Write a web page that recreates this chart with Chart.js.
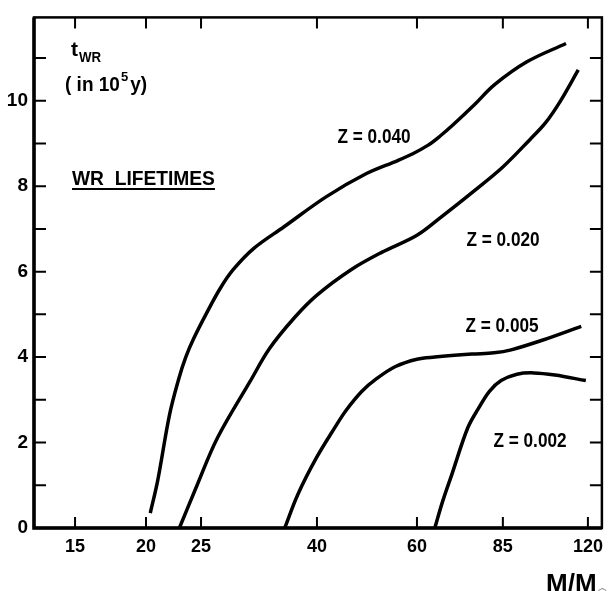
<!DOCTYPE html>
<html>
<head>
<meta charset="utf-8">
<script src="https://cdn.jsdelivr.net/npm/chart.js@4"></script>
<style>
  body { margin: 0; background: #fff; }
  #wrap { width: 611px; height: 591px; }
</style>
</head>
<body>
<div id="wrap"><canvas id="myChart"></canvas></div>
<script>
// masses (M/Msun) and WR lifetimes (in 1e5 yr)
var massZ040 = [20.35, 20.97, 22.0, 22.85, 23.5, 24.3, 25.5, 27, 28.5, 31, 35, 41.5, 48.8, 55.5, 59, 62.8, 66, 69.4, 75.8, 82.1, 93.7, 109.8];
var lifeZ040 = [0.35, 1.11, 2.65, 3.5, 4.0, 4.45, 5.0, 5.6, 6.05, 6.55, 7.05, 7.75, 8.29, 8.6, 8.76, 8.96, 9.18, 9.43, 9.91, 10.37, 10.91, 11.34];

var massZ020 = [22.9, 24.6, 26.7, 30.5, 33, 36.5, 40, 46, 52, 60, 66.5, 75, 85, 95, 101, 107.2, 115.4];
var lifeZ020 = [0, 1.0, 2.1, 3.43, 4.2, 4.92, 5.45, 6.05, 6.45, 6.85, 7.3, 7.85, 8.45, 9.1, 9.48, 9.98, 10.72];

var massZ005 = [35.1, 37, 39.9, 43, 45, 48, 51, 55, 60, 64.5, 75, 82, 87.9, 100, 116.8];
var lifeZ005 = [0, 0.78, 1.64, 2.35, 2.75, 3.2, 3.5, 3.78, 3.95, 4.0, 4.07, 4.1, 4.17, 4.4, 4.72];

var massZ002 = [64.5, 66.5, 69.1, 73.7, 77, 80.5, 84.4, 90, 96.4, 105, 119];
var lifeZ002 = [0, 0.6, 1.25, 2.34, 2.8, 3.2, 3.45, 3.6, 3.63, 3.58, 3.45];

var xTicks = [15, 20, 25, 40, 60, 85, 120];
var yMinorTicks = [1, 2, 3, 4, 5, 6, 7, 8, 9, 10, 11];

var FONT = "'Liberation Sans', Arial, sans-serif";

function toPoints(xs, ys) {
    return xs.map(function (x, i) { return { x: x, y: ys[i] }; });
}

function curve(xs, ys) {
    return {
        data: toPoints(xs, ys),
        borderColor: '#000',
        borderWidth: 3.5,
        pointRadius: 0,
        fill: false,
        tension: 0.35
    };
}

// condensed-looking bold text (squeezed horizontally)
function narrowText(ctx, text, x, y, size, sx, align) {
    ctx.save();
    ctx.font = 'bold ' + size + 'px ' + FONT;
    var w = ctx.measureText(text).width * sx;
    var left = align === 'center' ? x - w / 2 : x;
    ctx.translate(left, y);
    ctx.scale(sx, 1);
    ctx.textAlign = 'left';
    ctx.fillText(text, 0, 0);
    ctx.restore();
    return w;
}

// frame, inward tick marks and the free text
var decor = {
    id: 'decor',
    afterDraw: function (chart) {
        var ctx = chart.ctx;
        var a = chart.chartArea;
        var xs = chart.scales.x, ys = chart.scales.y;
        ctx.save();
        ctx.strokeStyle = '#000';
        ctx.fillStyle = '#000';
        ctx.textBaseline = 'alphabetic';

        // frame
        ctx.lineWidth = 2.5;
        ctx.strokeRect(a.left, a.top, a.right - a.left, a.bottom - a.top);
        ctx.lineWidth = 3.5;
        ctx.beginPath();
        ctx.moveTo(a.left, a.top);
        ctx.lineTo(a.left, a.bottom);
        ctx.lineTo(a.right, a.bottom);
        ctx.stroke();

        // ticks pointing inwards
        ctx.lineWidth = 2;
        ctx.beginPath();
        xTicks.forEach(function (v) {
            var px = xs.getPixelForValue(v);
            ctx.moveTo(px, a.bottom);
            ctx.lineTo(px, a.bottom - 11);
            ctx.moveTo(px, a.top);
            ctx.lineTo(px, a.top + 11);
        });
        yMinorTicks.forEach(function (v) {
            var py = ys.getPixelForValue(v);
            ctx.moveTo(a.left, py);
            ctx.lineTo(a.left + 12, py);
            ctx.moveTo(a.right, py);
            ctx.lineTo(a.right - 12, py);
        });
        ctx.stroke();

        // t_WR (in 10^5 y)
        var w = narrowText(ctx, 't', 71, 56, 21, 1);
        narrowText(ctx, 'WR', 71 + w + 1, 62, 14, 0.95);

        var x0 = 65;
        x0 += narrowText(ctx, '( in 10', x0, 91, 20, 0.95) + 1;
        x0 += narrowText(ctx, '5', x0, 81, 13, 1) + 2;
        narrowText(ctx, 'y)', x0, 91, 20, 0.95);

        // WR LIFETIMES, underlined
        var lw = narrowText(ctx, 'WR  LIFETIMES', 72, 185, 20, 0.96);
        ctx.lineWidth = 2;
        ctx.beginPath();
        ctx.moveTo(72, 189);
        ctx.lineTo(72 + lw, 189);
        ctx.stroke();

        // curve labels
        narrowText(ctx, 'Z = 0.040', 374, 143, 20, 0.86, 'center');
        narrowText(ctx, 'Z = 0.020', 503, 246, 20, 0.86, 'center');
        narrowText(ctx, 'Z = 0.005', 502, 332, 20, 0.86, 'center');
        narrowText(ctx, 'Z = 0.002', 530, 447, 20, 0.86, 'center');

        // axis name M/Msun, clipped by the bottom edge
        ctx.font = 'bold 26px ' + FONT;
        ctx.textAlign = 'left';
        var mx = 546;
        ctx.fillText('M/M', mx, 592);
        var mw = ctx.measureText('M/M').width;
        ctx.font = 'bold 13px "DejaVu Sans", sans-serif';
        ctx.fillText('\u2609', mx + mw, 598);

        ctx.restore();
    }
};

var ctx = document.getElementById('myChart').getContext('2d');
var myChart = new Chart(ctx, {
    type: 'line',
    data: {
        datasets: [
            curve(massZ040, lifeZ040),
            curve(massZ020, lifeZ020),
            curve(massZ005, lifeZ005),
            curve(massZ002, lifeZ002)
        ]
    },
    options: {
        responsive: true,
        maintainAspectRatio: false,
        animation: false,
        layout: { padding: { top: 12, right: 3, left: 0, bottom: 0 } },
        plugins: {
            legend: { display: false },
            tooltip: { enabled: false }
        },
        scales: {
            x: {
                type: 'logarithmic',
                min: 12.7,
                max: 127,
                afterBuildTicks: function (scale) {
                    scale.ticks = xTicks.map(function (v) { return { value: v }; });
                },
                afterFit: function (scale) { scale.height = 63; },
                grid: { display: false, drawTicks: false },
                border: { display: false },
                ticks: {
                    autoSkip: false,
                    maxRotation: 0,
                    padding: 8,
                    color: '#000',
                    font: { family: FONT, size: 18, weight: 'bold' },
                    callback: function (v) { return String(v); }
                }
            },
            y: {
                type: 'linear',
                min: 0,
                max: 11.95,
                afterFit: function (scale) { scale.width = 34; },
                grid: { display: false, drawTicks: false },
                border: { display: false },
                ticks: {
                    stepSize: 1,
                    autoSkip: false,
                    padding: 6,
                    color: '#000',
                    font: { family: FONT, size: 19, weight: 'bold' },
                    callback: function (v) { return (v % 2 === 0) ? String(v) : ''; }
                }
            }
        }
    },
    plugins: [decor]
});
</script>
</body>
</html>
